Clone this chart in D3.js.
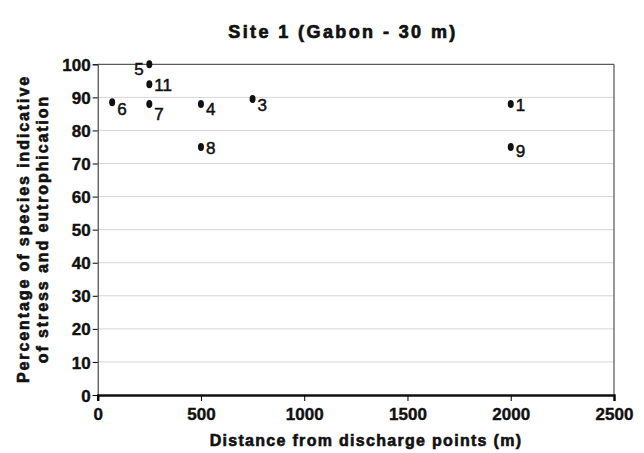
<!DOCTYPE html>
<html><head><meta charset="utf-8">
<script src="https://cdn.jsdelivr.net/npm/d3@7"></script>
<style>body{margin:0;background:#fff}svg{display:block}text{font-family:"Liberation Sans",Arial,sans-serif;font-weight:bold}</style>
</head><body>
<script>
const siteIds = ["1","3","4","5","6","7","8","9","11"];
const distances = [2000, 750, 500, 250, 70, 250, 500, 2000, 250];
const percentages = [88, 89.5, 88, 100, 88.5, 88, 75, 75, 94];
const xTicks = [0, 500, 1000, 1500, 2000, 2500];
const yTicks = [0,10,20,30,40,50,60,70,80,90,100];
const labelOffsets = {"1":[5,1],"3":[5,6],"4":[5,5],"5":[-15,5],"6":[5,7],"7":[5,10],"8":[5,1],"9":[5,4],"11":[5,1]};

const W=644,H=453;
const svg=d3.select("body").append("svg").attr("width",W).attr("height",H);
const x=d3.scaleLinear().domain([0,2500]).range([97.7,614]);
const y=d3.scaleLinear().domain([0,100]).range([395,64.3]);

svg.append("g").selectAll("line").data(yTicks.filter(d=>d>0&&d<100)).join("line")
 .attr("x1",x(0)).attr("x2",x(2500)).attr("y1",d=>y(d)).attr("y2",d=>y(d))
 .attr("stroke","#d6d6d6").attr("stroke-width",1);
svg.append("path").attr("d",`M${x(0)},${y(100)}H${x(2500)}V${y(0)}`).attr("fill","none").attr("stroke","#333").attr("stroke-width",1);

const yAxis=svg.append("g").attr("transform",`translate(${x(0)},0)`)
 .call(d3.axisLeft(y).tickValues(yTicks).tickSize(5).tickPadding(2).tickFormat(d3.format("d")));
yAxis.select(".domain").attr("stroke","#222");
yAxis.selectAll("text").attr("font-size",17).attr("fill","#111").attr("dy","0.36em")
 .attr("stroke","#111").attr("stroke-width",0.4)
 .style("font-family","'Liberation Sans',Arial,sans-serif").style("font-weight","bold");

const xAxis=svg.append("g").attr("transform",`translate(0,${y(0)})`)
 .call(d3.axisBottom(x).tickValues(xTicks).tickSize(6).tickPadding(7).tickFormat(d3.format("d")));
xAxis.select(".domain").attr("stroke","#111").attr("stroke-width",2.5);
xAxis.selectAll("text").attr("font-size",17).attr("fill","#111")
 .attr("stroke","#111").attr("stroke-width",0.4)
 .style("font-family","'Liberation Sans',Arial,sans-serif").style("font-weight","bold");

const pts=siteIds.map((id,i)=>({id,d:distances[i],p:percentages[i]}));
svg.append("g").selectAll("ellipse").data(pts).join("ellipse")
 .attr("cx",d=>x(d.d)).attr("cy",d=>y(d.p)).attr("rx",3).attr("ry",4).attr("fill","#111");
svg.append("g").selectAll("text").data(pts).join("text")
 .attr("x",d=>x(d.d)+labelOffsets[d.id][0]).attr("y",d=>y(d.p)+labelOffsets[d.id][1])
 .attr("dy","0.35em").attr("font-size",17).attr("fill","#111")
 .style("font-weight","normal")
 .attr("stroke","#111").attr("stroke-width",0.5).text(d=>d.id);

svg.append("text").attr("x",343).attr("y",38).attr("text-anchor","middle")
 .attr("font-size",18).attr("letter-spacing","2.4px").attr("fill","#111")
 .attr("stroke","#111").attr("stroke-width",0.7).text("Site 1 (Gabon - 30 m)");
svg.append("text").attr("x",366).attr("y",446).attr("text-anchor","middle")
 .attr("font-size",16).attr("letter-spacing","1.3px").attr("fill","#111")
 .attr("stroke","#111").attr("stroke-width",0.6).text("Distance from discharge points (m)");
const yl=svg.append("text").attr("transform","translate(0,229) rotate(-90)").attr("text-anchor","middle")
 .attr("font-size",16).attr("letter-spacing","1.9px").attr("fill","#111")
 .attr("stroke","#111").attr("stroke-width",0.6);
yl.append("tspan").attr("x",0).attr("y",29).text("Percentage of species indicative");
yl.append("tspan").attr("x",0).attr("y",48).text("of stress and eutrophication");
</script>
</body></html>
